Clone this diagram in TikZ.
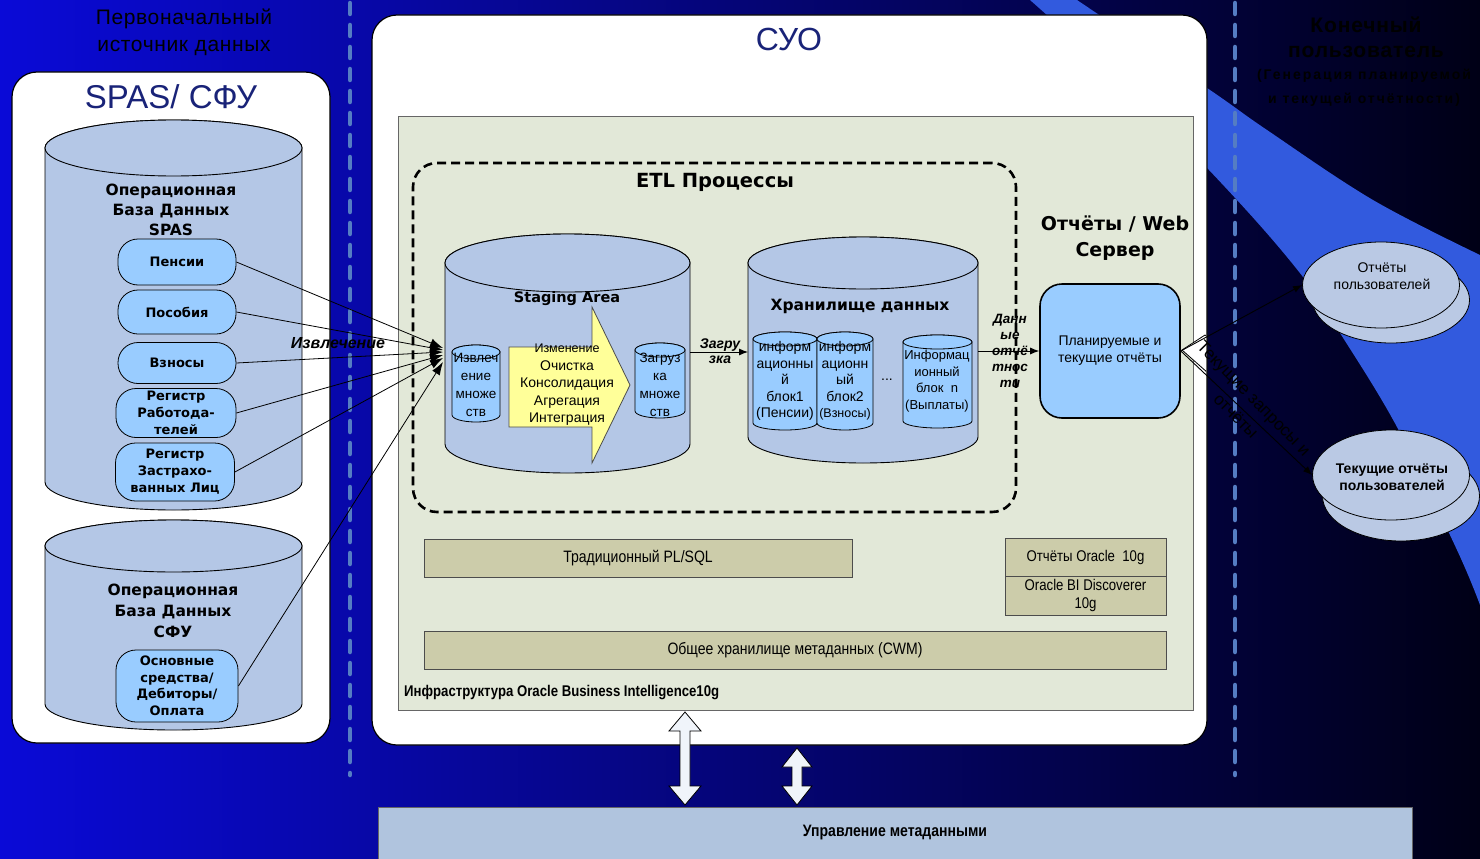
\documentclass[tikz,border=0pt]{standalone}
\usepackage{fontspec}
\setmainfont{Liberation Sans}
\newfontfamily\dvs{DejaVu Sans}
\newfontfamily\narrowf{Liberation Sans}[FakeStretch=0.85]
\usetikzlibrary{arrows.meta,shapes.geometric,calc}
\newcommand\myfs[2]{\fontsize{#1}{#2}\selectfont}
\definecolor{bgL}{RGB}{10,10,215}
\definecolor{bgR}{RGB}{0,0,22}
\definecolor{wedgec}{RGB}{50,90,222}
\definecolor{dashc}{RGB}{85,125,195}
\definecolor{navy}{RGB}{25,35,120}
\definecolor{cylf}{RGB}{180,199,230}
\definecolor{pillf}{RGB}{153,204,255}
\definecolor{greenp}{RGB}{226,232,216}
\definecolor{khaki}{RGB}{204,204,170}
\definecolor{yell}{RGB}{255,255,153}
\definecolor{userf}{RGB}{186,201,228}
\definecolor{metaf}{RGB}{176,196,222}
\definecolor{arrf}{RGB}{240,244,250}
\newcommand\drawcyl[6]{%
  \pgfmathsetmacro\cylrx{(#2-#1)/2}%
  \pgfmathsetmacro\cylcx{(#1+#2)/2}%
  \path[#6] (#1,#3) -- (#1,#4) arc[start angle=180,end angle=0,x radius=\cylrx,y radius=#5] -- (#2,#3) arc[start angle=0,end angle=-180,x radius=\cylrx,y radius=#5] -- cycle;
  \path[#6] (\cylcx,#3) ellipse[x radius=\cylrx,y radius=#5];
}
\tikzset{
 panel/.style={draw=black, line width=1.2pt, fill=white, rounded corners=25pt, inner sep=0pt},
 pill/.style={draw=black, line width=0.8pt, fill=pillf, rounded corners=20pt, align=center, inner sep=0pt, font=\dvs\bfseries\myfs{13}{17}},
 cyl/.style={draw=black, line width=0.9pt, fill=cylf},
 scyl/.style={draw=black, line width=0.8pt, fill=pillf},
 kbox/.style={draw=black!70, line width=0.8pt, fill=khaki, inner sep=0pt, font=\narrowf\myfs{16.5}{19}, align=center},
 ext/.style={draw=black, line width=0.8pt, -{Latex[length=13pt,width=9pt]}},
 arr/.style={draw=black, line width=0.9pt, -{Latex[length=9pt,width=7pt]}},
 vdash/.style={draw=dashc, line width=4.5pt, dash pattern=on 11pt off 11pt, line cap=round},
 lbl/.style={inner sep=0pt, align=center},
 darr/.style={draw=black, line width=0.8pt, fill=arrf},
}
\begin{document}
\begin{tikzpicture}[x=1pt,y=-1pt]
\useasboundingbox (0,0) rectangle (1480,859);
\shade[left color=bgL,right color=bgR] (0,0) rectangle (1480,859);
\fill[wedgec] plot[smooth, tension=0.6] coordinates {(1077,0) (1210,90) (1267,130) (1373,200) (1480,255)} -- (1480,605) -- plot[smooth, tension=0.6] coordinates {(1480,605) (1457,550) (1397,427) (1340,333) (1303,277) (1237,200) (1140,100) (1030,0)} -- cycle;
\draw[vdash] (350,3) -- (350,775);
\draw[vdash] (1235,3) -- (1235,775);
% headers
\node[lbl, text=black, font=\myfs{21}{27}\addfontfeature{LetterSpace=3}] (h1) at (184,32) {Первоначальный\\источник данных};
\node[lbl, text=black, font=\bfseries\myfs{21}{25}\addfontfeature{LetterSpace=4}] (h2) at (1366,37) {Конечный\\пользователь};
\node[lbl, text=black, font=\bfseries\myfs{14}{24}\addfontfeature{LetterSpace=14}] (h3) at (1364,88) {(Генерация планируемой\\и текущей отчётности)};
% panels
\node[panel, minimum width=318pt, minimum height=671pt] (lp) at (171,407.5) {};
\node[panel, minimum width=835pt, minimum height=730pt] (mp) at (789.5,380) {};
\node[inner sep=0pt, font=\myfs{33}{38}, text=navy] (spt) at (171,97) {SPAS/ СФУ};
\node[inner sep=0pt, font=\myfs{32}{36}, text=navy] (suo) at (789,39) {СУО};
% SPAS database
\drawcyl{45}{302}{148}{482}{28}{cyl}
\node[lbl, font=\dvs\bfseries\myfs{15.5}{20}] (db1) at (171,210) {Операционная\\База Данных\\SPAS};
\node[pill, minimum width=118pt, minimum height=46pt] (p1) at (177,262) {Пенсии};
\node[pill, minimum width=118pt, minimum height=44pt] (p2) at (177,312) {Пособия};
\node[pill, minimum width=118pt, minimum height=41pt] (p3) at (177,363) {Взносы};
\node[pill, minimum width=120pt, minimum height=49pt] (p4) at (176,413) {Регистр\\Работода-\\телей};
\node[pill, minimum width=119pt, minimum height=58pt] (p5) at (175,472) {Регистр\\Застрахо-\\ванных Лиц};
% SFU database
\drawcyl{45}{302}{546}{704}{26}{cyl}
\node[lbl, font=\dvs\bfseries\myfs{15.5}{21}] (db2) at (173,611) {Операционная\\База Данных\\СФУ};
\node[pill, minimum width=122pt, minimum height=72pt, font=\dvs\bfseries\myfs{13}{16.5}] (p6) at (177,686) {Основные\\средства/\\Дебиторы/\\Оплата};
% infrastructure panel
\node[draw=black!60, line width=0.8pt, fill=greenp, minimum width=795pt, minimum height=594pt, inner sep=0pt] (infra) at (795.5,413) {};
\node[anchor=west, inner sep=0pt, font=\narrowf\bfseries\myfs{15.5}{18}] (infl) at (404,693) {Инфраструктура Oracle Business Intelligence10g};
% ETL box
\node[draw=black, line width=2.6pt, dash pattern=on 9pt off 5pt, rounded corners=24pt, minimum width=603pt, minimum height=349pt, inner sep=0pt] (etl) at (714.5,337.5) {};
\node[inner sep=0pt, font=\dvs\bfseries\myfs{19.5}{22}] (etlt) at (715,182) {ETL Процессы};
% staging
\drawcyl{445}{690}{263}{444}{29}{cyl}
\node[inner sep=0pt, font=\dvs\bfseries\myfs{14.5}{17}] (stgt) at (567,299) {Staging Area};
\drawcyl{452}{500}{352}{415}{7}{scyl}
\node[lbl, font=\myfs{13.5}{18}] (extr) at (476,385) {Извлеч\\ение\\множе\\ств};
\path[draw=black!70, line width=0.8pt, fill=yell] (509,347) -- (592,347) -- (592,307) -- (630,385) -- (592,463) -- (592,427) -- (509,427) -- cycle;
\node[lbl, font=\myfs{14}{17.5}] (trn) at (567,385) {{\myfs{12.5}{15}Изменение}\\Очистка\\Консолидация\\Агрегация\\Интеграция};
\drawcyl{635}{685}{350}{411}{7}{scyl}
\node[lbl, font=\myfs{13.5}{18}] (load) at (660,385) {Загруз\\ка\\множе\\ств};
% warehouse
\drawcyl{748}{978}{263}{437}{26}{cyl}
\node[inner sep=0pt, font=\dvs\bfseries\myfs{15.5}{18}] (dwt) at (860,306) {Хранилище данных};
\drawcyl{753}{817}{339}{423}{7}{scyl}
\drawcyl{817}{873}{339}{423}{7}{scyl}
\drawcyl{903}{972}{342}{421}{7}{scyl}
\node[lbl, font=\myfs{14}{16.5}] (b1) at (785,381) {информ\\ационны\\й\\блок1\\(Пенсии)};
\node[lbl, font=\myfs{14}{16.5}] (b2) at (845,381) {информ\\ационн\\ый\\блок2\\{\myfs{12.5}{14}(Взносы)}};
\node[lbl, font=\myfs{13}{16.5}] (bn) at (937,381) {Информац\\ионный\\блок~~n\\(Выплаты)};
\node[inner sep=0pt, font=\myfs{14}{16}] (dots) at (887,380) {...};
% load arrow
\coordinate (stgE) at (690,352);
\coordinate (dwW) at (748,352);
\draw[arr] (stgE) -- (dwW);
\node[lbl, font=\bfseries\itshape\myfs{14}{15}] (zl) at (720,351) {Загру\\зка};
% report server
\node[lbl, font=\dvs\bfseries\myfs{19}{26}] (rept) at (1115,238) {Отчёты / Web\\Сервер};
\node[draw=black, line width=1.6pt, fill=pillf, rounded corners=22pt, minimum width=140pt, minimum height=134pt, align=center, inner sep=0pt, font=\myfs{14}{17}] (rep) at (1110,351) {Планируемые и\\текущие отчёты};
\coordinate (dwE) at (978,351);
\draw[arr] (dwE) -- (rep.west);
\node[lbl, font=\bfseries\itshape\myfs{13.5}{16}] (dl) at (1010,351) {Данн\\ые\\отчё\\тнос\\ти};
% khaki boxes
\node[kbox, minimum width=428pt, minimum height=38pt] (plsql) at (638,558) {Традиционный PL/SQL};
\node[kbox, minimum width=161pt, minimum height=38pt, font=\narrowf\myfs{15.5}{18}] (ora) at (1085.5,557) {Отчёты Oracle~~10g};
\node[kbox, minimum width=161pt, minimum height=39pt, font=\narrowf\myfs{15.5}{18}] (bi) at (1085.5,595.5) {Oracle BI Discoverer\\10g};
\node[kbox, minimum width=742pt, minimum height=38pt] (cwm) at (795,650) {Общее хранилище метаданных (CWM)};
% users
\node[ellipse, draw=black, line width=0.8pt, fill=userf, minimum width=157pt, minimum height=86pt] (u1b) at (1391,300) {};
\node[ellipse, draw=black, line width=0.8pt, fill=userf, minimum width=157pt, minimum height=86pt] (u1) at (1381,285) {};
\node[lbl, font=\myfs{14}{17}] (u1t) at (1382,276) {Отчёты\\пользователей};
\node[ellipse, draw=black, line width=0.8pt, fill=userf, minimum width=157pt, minimum height=90pt] (u2b) at (1401,496) {};
\node[ellipse, draw=black, line width=0.8pt, fill=userf, minimum width=157pt, minimum height=90pt] (u2) at (1391,475) {};
\node[lbl, font=\bfseries\myfs{14}{17.5}] (u2t) at (1392,477) {Текущие отчёты\\пользователей};
\begin{scope}
\clip (1150,300) rectangle (1206,400);
\path[draw=black, line width=0.8pt, fill=white] (1182,350) -- (1205,335) -- (1231,358) -- (1208,373) -- cycle;
\end{scope}
\draw[arr] (rep.east) -- (u1.west);
\draw[arr] (rep.east) -- (u2.west);
\node[lbl, rotate=-45.5, font=\myfs{17}{25}] (ql) at (1245,407) {Текущие запросы и\\отчёты};
% extraction
\coordinate (t1) at (443,348);
\coordinate (t2) at (443,350);
\coordinate (t3) at (443,352);
\coordinate (t4) at (443,355);
\coordinate (t5) at (443,358);
\coordinate (t6) at (443,362);
\draw[ext] (p1.east) -- (t1);
\draw[ext] (p2.east) -- (t2);
\draw[ext] (p3.east) -- (t3);
\draw[ext] (p4.east) -- (t4);
\draw[ext] (p5.east) -- (t5);
\draw[ext] (p6.east) -- (t6);
\node[inner sep=0pt, font=\bfseries\itshape\myfs{16}{18}] (exl) at (338,343) {Извлечение};
% metadata management
\node[draw=black!60, line width=0.8pt, fill=metaf, minimum width=1034pt, minimum height=52pt, inner sep=0pt, font=\narrowf\bfseries\myfs{16.5}{19}] (meta) at (895,833) {Управление метаданными};
\path[darr] (685,712) -- (701,731) -- (690,731) -- (690,786) -- (701,786) -- (685,805) -- (669,786) -- (680,786) -- (680,731) -- (669,731) -- cycle;
\path[darr] (797,748) -- (812,767) -- (802,767) -- (802,786) -- (812,786) -- (797,805) -- (782,786) -- (792,786) -- (792,767) -- (782,767) -- cycle;
\end{tikzpicture}
\end{document}
